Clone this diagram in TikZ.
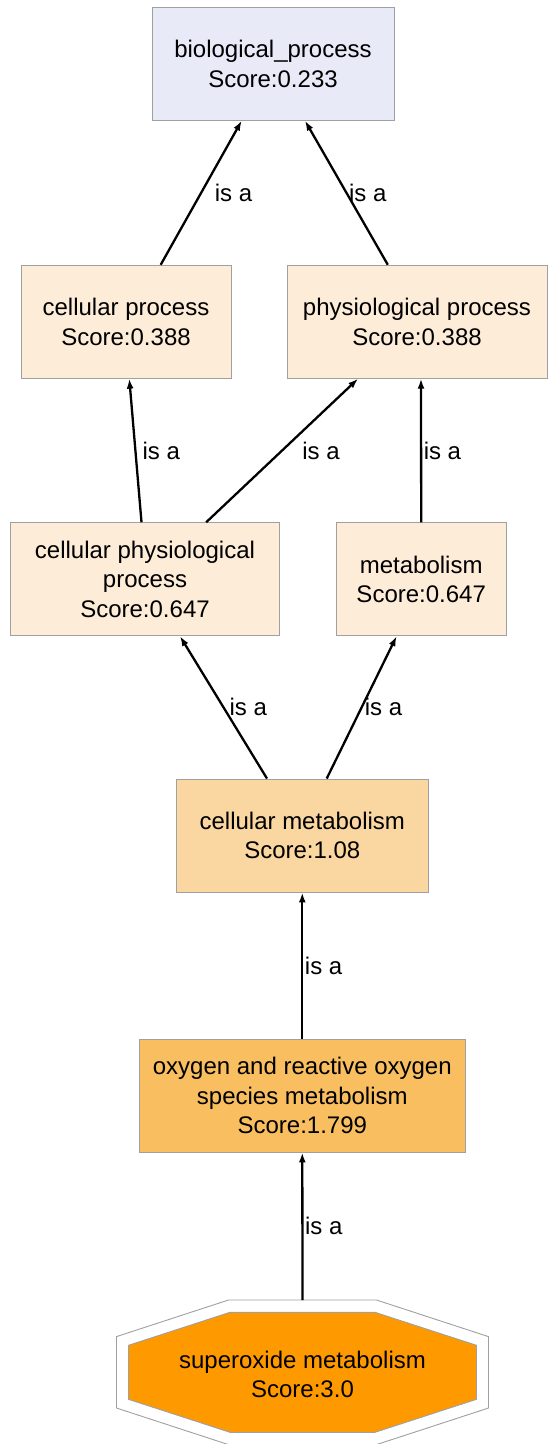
\documentclass[tikz,border=0pt]{standalone}
\usepackage{fontspec}
\setmainfont{Liberation Sans}
\usetikzlibrary{arrows.meta}

\definecolor{framegray}{RGB}{160,160,160}
\definecolor{rootblue}{RGB}{232,234,248}
\definecolor{peachlight}{RGB}{253,236,216}
\definecolor{peachmid}{RGB}{250,214,160}
\definecolor{orangemid}{RGB}{248,190,95}
\definecolor{orangefull}{RGB}{255,153,0}

\begin{document}
\begin{tikzpicture}[
    x=1pt, y=-1pt,
    term/.style     = {rectangle, draw=framegray, line width=0.9pt, align=center, inner sep=0pt, minimum height=113pt, font=\fontsize{24}{29.5}\selectfont},
    rootterm/.style = {term, fill=rootblue},
    lowterm/.style  = {term, fill=peachlight},
    midterm/.style  = {term, fill=peachmid},
    highterm/.style = {term, fill=orangemid},
    octtext/.style  = {align=center, inner sep=0pt, font=\fontsize{24}{29.5}\selectfont},
    isa/.style      = {-{Latex[length=10pt,width=7pt]}, line width=2.3pt},
    isalabel/.style = {font=\fontsize{24}{29.5}\selectfont, inner sep=0pt, anchor=west}
]
\useasboundingbox (0,0) rectangle (548,1444);

% --- Ebene 1 ---
\node[rootterm, minimum width=242pt] (bio) at (273,63.7) {biological\_process\\ Score:0.233};

% --- Ebene 2 ---
\node[lowterm, minimum width=210pt] (cellproc) at (126,321.7) {cellular process\\ Score:0.388};
\node[lowterm, minimum width=260pt] (physproc) at (417,321.7) {physiological process\\ Score:0.388};

% --- Ebene 3 ---
\node[lowterm, minimum width=269pt] (cellphys) at (145,579.2) {cellular physiological\\ process\\ Score:0.647};
\node[lowterm, minimum width=169.5pt] (metab) at (421.2,579.2) {metabolism\\ Score:0.647};

% --- Ebene 4 und 5 ---
\node[midterm, minimum width=251.3pt] (cellmetab) at (302.3,835.5) {cellular metabolism\\ Score:1.08};
\node[highterm, minimum width=326.7pt] (oxymetab) at (302.3,1095.5) {oxygen and reactive oxygen\\ species metabolism\\ Score:1.799};

% --- Blatt (Achteck) ---
\begin{scope}[shift={(302.5,1372.3)}]
\draw[draw=framegray, line width=0.9pt, fill=white] (-74,-72.3) -- (74,-72.3) -- (186,-35.7) -- (186,35.7) -- (74,72.3) -- (-74,72.3) -- (-186,35.7) -- (-186,-35.7) -- cycle;
\draw[draw=framegray, line width=0.9pt, fill=orangefull] (-72.5,-60) -- (72.5,-60) -- (174,-27) -- (174,27) -- (72.5,60) -- (-72.5,60) -- (-174,27) -- (-174,-27) -- cycle;
\coordinate (supertop) at (0,-72.3);
\node[octtext] (superox) at (0,2) {superoxide metabolism\\ Score:3.0};
\end{scope}

% --- Kanten ---
\draw[isa] ([xshift=34.7pt]cellproc.north) -- node[isalabel, xshift=12.5pt]{is a} ([xshift=-31.3pt]bio.south);
\draw[isa] ([xshift=-29.2pt]physproc.north) -- node[isalabel, xshift=1.5pt]{is a} ([xshift=32pt]bio.south);
\draw[isa] ([xshift=-3.5pt]cellphys.north) -- node[isalabel, xshift=6pt]{is a} ([xshift=3.3pt]cellproc.south);
\draw[isa] ([xshift=61.2pt]cellphys.north) -- node[isalabel, xshift=19pt]{is a} ([xshift=-58.9pt]physproc.south);
\draw[isa] (metab.north) -- node[isalabel, xshift=1.5pt]{is a} ([xshift=4pt]physproc.south);
\draw[isa] ([xshift=-35.3pt]cellmetab.north) -- node[isalabel, xshift=5pt]{is a} ([xshift=35pt]cellphys.south);
\draw[isa] ([xshift=24.4pt]cellmetab.north) -- node[isalabel, xshift=2pt]{is a} ([xshift=-24.6pt]metab.south);
\draw[isa] (oxymetab.north) -- node[isalabel, xshift=1.5pt]{is a} (cellmetab.south);
\draw[isa] (supertop) -- node[isalabel, xshift=1.5pt]{is a} (oxymetab.south);

\end{tikzpicture}
\end{document}
